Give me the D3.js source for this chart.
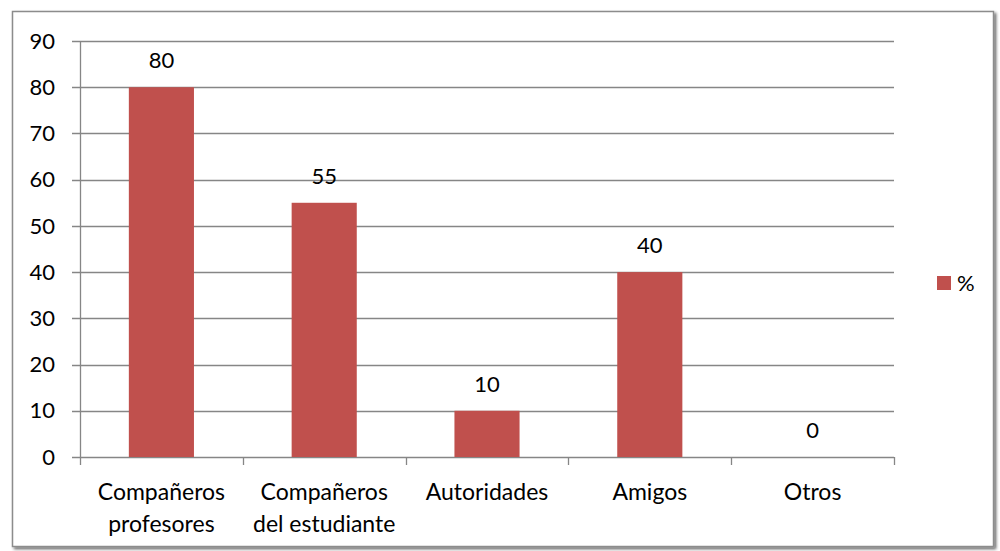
<!DOCTYPE html>
<html><head><meta charset="utf-8">
<script src="https://cdnjs.cloudflare.com/ajax/libs/d3/7.8.5/d3.min.js"></script>
<style>body{margin:0;background:#fff}svg{display:block}text{font-family:Lato,"Open Sans",sans-serif;fill:#000}</style>
</head><body>
<svg id="c" width="1000" height="551"></svg>
<script>
const categories = [["Compañeros","profesores"],["Compañeros","del estudiante"],["Autoridades"],["Amigos"],["Otros"]];
const values = [80,55,10,40,0];
const yTicks = [0,10,20,30,40,50,60,70,80,90];
const seriesName = "%";

const svg = d3.select("#c");
const defs = svg.append("defs");
const f = defs.append("filter").attr("id","sh").attr("x","-5%").attr("y","-5%").attr("width","110%").attr("height","110%");
f.append("feGaussianBlur").attr("in","SourceAlpha").attr("stdDeviation",1.5);
f.append("feOffset").attr("dx",2).attr("dy",2).attr("result","b");
f.append("feComponentTransfer").append("feFuncA").attr("type","linear").attr("slope",0.6);
const m = f.append("feMerge"); m.append("feMergeNode"); m.append("feMergeNode").attr("in","SourceGraphic");

svg.append("rect").attr("x",12.5).attr("y",11.5).attr("width",981).attr("height",535)
  .attr("fill","#fff").attr("stroke","#8c8c8c").attr("stroke-width",1.5).attr("filter","url(#sh)");

const x0 = 80, x1 = 894, yTop = 41, yBot = 457;
const x = d3.scaleBand().domain(d3.range(categories.length)).range([x0,x1]).paddingInner(0.6).paddingOuter(0.3);
const xb = d3.scaleBand().domain(d3.range(categories.length)).range([x0,x1]);
const y = d3.scaleLinear().domain([0,90]).range([yBot,yTop]);
const grid = "#868686";

svg.append("g").selectAll("line").data(yTicks).join("line")
  .attr("x1",x0-8).attr("x2",x1).attr("y1",d=>Math.round(y(d))+0.5).attr("y2",d=>Math.round(y(d))+0.5)
  .attr("stroke",grid).attr("stroke-width",1.3);
svg.append("line").attr("x1",x0+0.5).attr("x2",x0+0.5).attr("y1",yTop).attr("y2",yBot).attr("stroke",grid).attr("stroke-width",1.3);
svg.append("g").selectAll("line").data(d3.range(categories.length+1)).join("line")
  .attr("x1",i=>Math.round(i<categories.length?xb(i):x1)+0.5).attr("x2",i=>Math.round(i<categories.length?xb(i):x1)+0.5)
  .attr("y1",yBot).attr("y2",yBot+8).attr("stroke",grid).attr("stroke-width",1.3);
svg.append("g").selectAll("text").data(yTicks).join("text")
  .attr("x",55).attr("y",d=>y(d)).attr("dy","0.35em").attr("text-anchor","end")
  .style("font-size","22px").text(d=>d);
svg.append("g").selectAll("rect").data(values).join("rect")
  .attr("x",(d,i)=>x(i)).attr("width",x.bandwidth()).attr("y",d=>y(d)).attr("height",d=>yBot-y(d))
  .attr("fill","#C0504D");
svg.append("g").selectAll("text").data(values).join("text")
  .attr("x",(d,i)=>x(i)+x.bandwidth()/2).attr("y",d=>y(d)-19).attr("text-anchor","middle")
  .style("font-size","22px").text(d=>d);
const cl = svg.append("g").selectAll("text").data(categories).join("text")
  .attr("x",(d,i)=>xb(i)+xb.bandwidth()/2).attr("y",500).attr("text-anchor","middle").style("font-size","23px");
cl.selectAll("tspan").data(d=>d).join("tspan").attr("x",function(){return d3.select(this.parentNode).attr("x");})
  .attr("dy",(d,j)=>j===0?0:32).text(d=>d);
svg.append("rect").attr("x",937).attr("y",276).attr("width",14).attr("height",14).attr("fill","#C0504D");
svg.append("text").attr("x",957).attr("y",291).style("font-size","22px").text(seriesName);
</script>
</body></html>
